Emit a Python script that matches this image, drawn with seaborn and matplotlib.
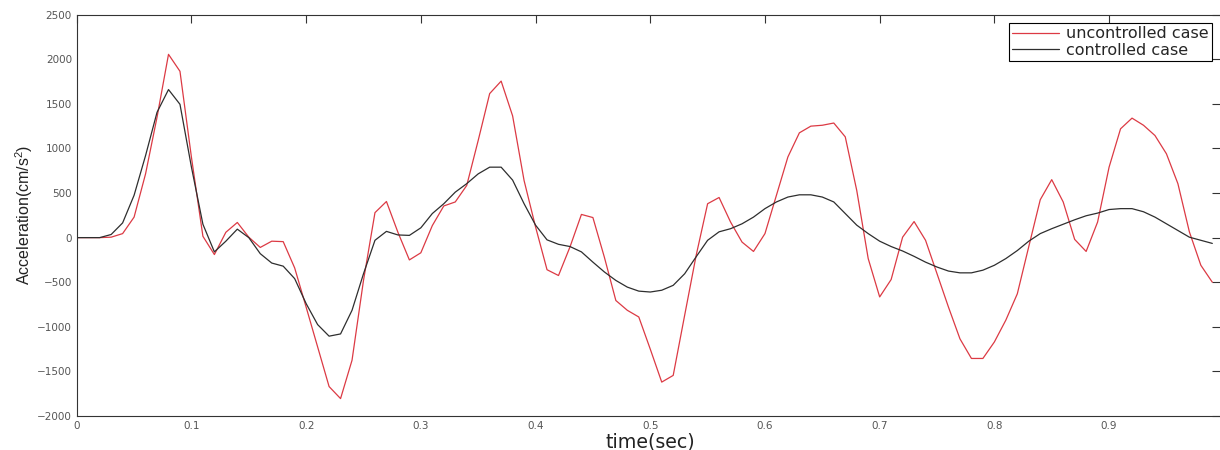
import matplotlib
matplotlib.use("Agg")
import matplotlib.pyplot as plt
import numpy as np
import pandas as pd
import seaborn as sns


# sample times (sec), one sample every 0.01 s
TIME = np.round(np.arange(100) * 0.01, 2)

UNCONTROLLED = [
    0, 0, 0, 5, 45, 230, 715, 1350, 2055, 1865,
    900, 15, -190, 60, 170, 5, -110, -40, -45, -340,
    -780, -1225, -1670, -1805, -1375, -480, 280, 405, 60, -250,
    -170, 135, 355, 400, 585, 1090, 1615, 1755, 1365, 640,
    120, -360, -425, -105, 260, 225, -220, -705, -815, -890,
    -1250, -1620, -1545, -870, -200, 380, 450, 175, -50, -155,
    45, 475, 905, 1175, 1250, 1260, 1285, 1130, 530, -235,
    -665, -470, 5, 180, -30, -405, -780, -1135, -1355, -1355,
    -1170, -925, -630, -100, 425, 650, 400, -20, -155, 175,
    790, 1220, 1340, 1260, 1145, 940, 605, 65, -310, -500,
]

CONTROLLED = [
    0, 0, 0, 35, 165, 475, 920, 1405, 1660, 1495,
    790, 150, -160, -40, 95, 0, -180, -285, -320, -460,
    -740, -975, -1105, -1080, -815, -405, -30, 70, 30, 25,
    110, 270, 380, 510, 605, 715, 790, 790, 645, 380,
    140, -25, -75, -100, -160, -275, -385, -480, -555, -600,
    -610, -590, -535, -405, -215, -30, 65, 100, 155, 230,
    325, 400, 455, 480, 480, 455, 400, 270, 140, 45,
    -40, -100, -150, -210, -275, -330, -375, -395, -395, -365,
    -310, -235, -145, -40, 45, 100, 150, 200, 245, 275,
    315, 325, 325, 290, 230, 155, 80, 5, -30, -65,
]

X_TICKS = [0, 0.1, 0.2, 0.3, 0.4, 0.5, 0.6, 0.7, 0.8, 0.9, 1.0]
# the "1" label sits past the right edge of the picture, so it stays blank
X_TICK_LABELS = ["0", "0.1", "0.2", "0.3", "0.4", "0.5", "0.6", "0.7", "0.8", "0.9", ""]
Y_TICKS = [-2000, -1500, -1000, -500, 0, 500, 1000, 1500, 2000, 2500]

CASES = ["uncontrolled case", "controlled case"]
COLOR_MAP = {
    "uncontrolled case": "#dc3a44",
    "controlled case": "#2e2e2e",
}


sns.set_theme(style="white")
plt.rcParams["font.family"] = ["DejaVu Sans"]
plt.rcParams["mathtext.fontset"] = "custom"
plt.rcParams["mathtext.rm"] = "Liberation Sans"
plt.rcParams["mathtext.default"] = "regular"

df = pd.DataFrame({
    "time": np.concatenate([TIME, TIME]),
    "accel": UNCONTROLLED + CONTROLLED,
    "case": [CASES[0]] * len(TIME) + [CASES[1]] * len(TIME),
})

fig = plt.figure(figsize=(12.2, 4.5), dpi=100)
ax = fig.add_axes([0.0629, 0.0756, 0.9402, 0.8918])

sns.lineplot(
    data=df,
    x="time",
    y="accel",
    hue="case",
    hue_order=CASES,
    palette=COLOR_MAP,
    linewidth=0.9,
    ax=ax,
)

ax.set_xlim(0, 1.0)
ax.set_ylim(-2000, 2500)
ax.set_xticks(X_TICKS, X_TICK_LABELS)
ax.set_yticks(Y_TICKS)

for spine in ax.spines.values():
    spine.set_color("#333333")
    spine.set_linewidth(0.8)

ax.tick_params(axis="both", direction="in", top=True, right=True,
               color="#333333", width=0.8, labelsize=7.5,
               labelcolor="#555555")
ax.tick_params(axis="x", length=5.8, pad=3.5)
ax.tick_params(axis="y", length=8.6, pad=3.5)

ax.set_xlabel("time(sec)", fontsize=13.7, labelpad=1, color="#222222")
ax.set_ylabel("Acceleration(cm/s$^{2}$)", fontsize=11.5,
              family=["Liberation Sans"], color="#222222")
ax.yaxis.set_label_coords(-0.036, 0.5)

sns.move_legend(
    ax,
    "upper right",
    bbox_to_anchor=(0.9895, 0.9786),
    title=None,
    frameon=True,
    fancybox=False,
    framealpha=1,
    edgecolor="black",
    fontsize=11.5,
    handlelength=2.9,
    handletextpad=0.45,
    labelspacing=0.08,
    borderpad=0.2,
    borderaxespad=0,
)
ax.get_legend().get_frame().set_linewidth(0.8)

fig.savefig("out.png", dpi=100)
